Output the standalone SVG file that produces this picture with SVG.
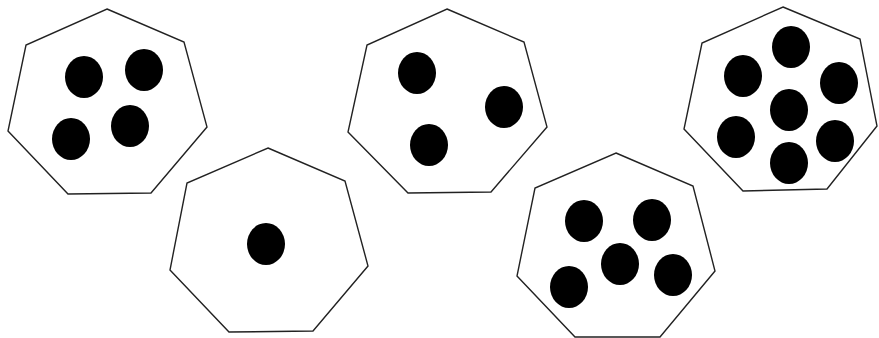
<svg xmlns="http://www.w3.org/2000/svg" width="879" height="338" viewBox="0 0 879 338">
<style>
.hept{fill:#fff;stroke:#222;stroke-width:1.4;stroke-linejoin:miter}
.dot{fill:#000}
</style>
<rect width="879" height="338" fill="#fff"/>
<g id="node-four">
<polygon class="hept" points="107,9 184,42 207,127 151,193 68,194 8,131 26,45"/>
<ellipse class="dot" cx="84" cy="77" rx="19" ry="21"/>
<ellipse class="dot" cx="144" cy="70" rx="19" ry="21"/>
<ellipse class="dot" cx="71" cy="139" rx="19" ry="21"/>
<ellipse class="dot" cx="130" cy="126" rx="19" ry="21"/>
</g>
<g id="node-one">
<polygon class="hept" points="268,148 345,181 368,266 313,331 229,332 170,270 187,183"/>
<ellipse class="dot" cx="266" cy="244" rx="19" ry="21"/>
</g>
<g id="node-three">
<polygon class="hept" points="447,9 524,42 547,127 491,192 408,193 348,132 367,45"/>
<ellipse class="dot" cx="417" cy="73" rx="19" ry="21"/>
<ellipse class="dot" cx="504" cy="107" rx="19" ry="21"/>
<ellipse class="dot" cx="429" cy="145" rx="19" ry="21"/>
</g>
<g id="node-five">
<polygon class="hept" points="616,153 693,186 715,271 660,337 575,337 517,276 535,188"/>
<ellipse class="dot" cx="584" cy="221" rx="19" ry="21"/>
<ellipse class="dot" cx="652" cy="220" rx="19" ry="21"/>
<ellipse class="dot" cx="620" cy="264" rx="19" ry="21"/>
<ellipse class="dot" cx="673" cy="275" rx="19" ry="21"/>
<ellipse class="dot" cx="569" cy="287" rx="19" ry="21"/>
</g>
<g id="node-seven">
<polygon class="hept" points="783,7 860,39 877,126 827,189 743,191 684,129 702,43"/>
<ellipse class="dot" cx="791" cy="47" rx="19" ry="21"/>
<ellipse class="dot" cx="743" cy="76" rx="19" ry="21"/>
<ellipse class="dot" cx="839" cy="83" rx="19" ry="21"/>
<ellipse class="dot" cx="789" cy="110" rx="19" ry="21"/>
<ellipse class="dot" cx="736" cy="137" rx="19" ry="21"/>
<ellipse class="dot" cx="835" cy="141" rx="19" ry="21"/>
<ellipse class="dot" cx="789" cy="163" rx="19" ry="21"/>
</g>
<g id="connectors"/>
</svg>
